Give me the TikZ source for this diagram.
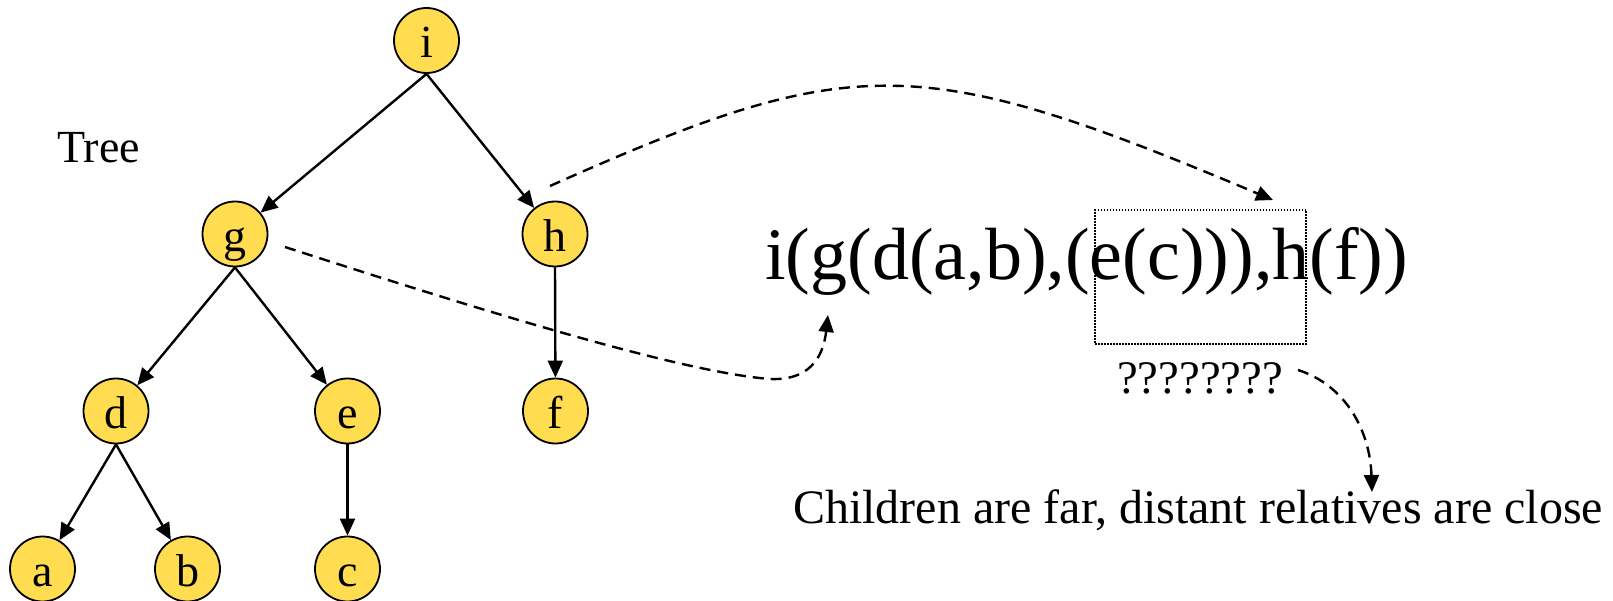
\documentclass[tikz,border=0pt]{standalone}
\usepackage{fontspec}
\setmainfont{Liberation Serif}
\usetikzlibrary{arrows.meta}
\definecolor{nodeyellow}{RGB}{255,220,80}
\begin{document}
\begin{tikzpicture}[x=1pt,y=-1pt,
  treenode/.style={circle,draw=black,line width=1.8pt,fill=nodeyellow,minimum size=65pt,inner sep=0pt,
    text height=40pt,text depth=5pt,font=\fontsize{46}{50}\selectfont},
  edge/.style={line width=2.4pt,-{Triangle[length=17pt,width=15pt]}},
  dasharrow/.style={line width=2.4pt,dash pattern=on 11pt off 7pt,-{Triangle[length=17pt,width=15pt]}},
  lbl/.style={inner sep=0pt,anchor=base west,font=\fontsize{46}{50}\selectfont}]
\useasboundingbox (0,0) rectangle (1613,601);
% tree nodes
\node[treenode] (i) at (426.5,40.5) {i};
\node[treenode] (g) at (235,234) {g};
\node[treenode] (h) at (555,234) {h};
\node[treenode] (d) at (116,411) {d};
\node[treenode] (e) at (347.5,411) {e};
\node[treenode] (f) at (555.5,411) {f};
\node[treenode] (a) at (42.5,569) {a};
\node[treenode] (b) at (187.5,569) {b};
\node[treenode] (c) at (347.5,569) {c};
% tree edges
\draw[edge] (i.south) -- (g);
\draw[edge] (i.south) -- (h);
\draw[edge] (g.south) -- (d);
\draw[edge] (g.south) -- (e);
\draw[edge] (h.south) -- (f);
\draw[edge] (d.south) -- (a);
\draw[edge] (d.south) -- (b);
\draw[edge] (e.south) -- (c);
% texts
\node[lbl,font=\fontsize{46}{50}\selectfont] (tree) at (57,163) {Tree};
\node[lbl,font=\fontsize{74}{80}\selectfont] (formula) at (765,280) {i(g(d(a,b),(e(c))),h(f))};
\node[lbl,font=\fontsize{46.7}{50}\selectfont] (qm) at (1117,393) {????????};
\node[lbl,font=\fontsize{48}{50}\selectfont] (child) at (793,523) {Children are far, distant relatives are close};
% dotted box
\node[draw,line width=1.4pt,dash pattern=on 1.5pt off 1.5pt,inner sep=0pt,minimum width=211pt,minimum height=134pt] (box) at (1200.5,277) {};
% dashed connectors
\coordinate (hstart) at (550,186);
\coordinate (boxtop) at (1273,200);
\coordinate (gstart) at (285,247);
\coordinate (gbend) at (770,379);
\coordinate (formtip) at (828,315);
\coordinate (qstart) at (1298,370);
\coordinate (childtip) at (1372,492);
\draw[dasharrow] (hstart) .. controls (853,51) and (919,51) .. (boxtop);
\draw[dasharrow] (gstart) .. controls (480,310) and (680,372) .. (gbend)
  .. controls (815,381) and (824,350) .. (formtip);
\draw[dasharrow] (qstart) .. controls (1345,385) and (1370,430) .. (childtip);
\end{tikzpicture}
\end{document}
